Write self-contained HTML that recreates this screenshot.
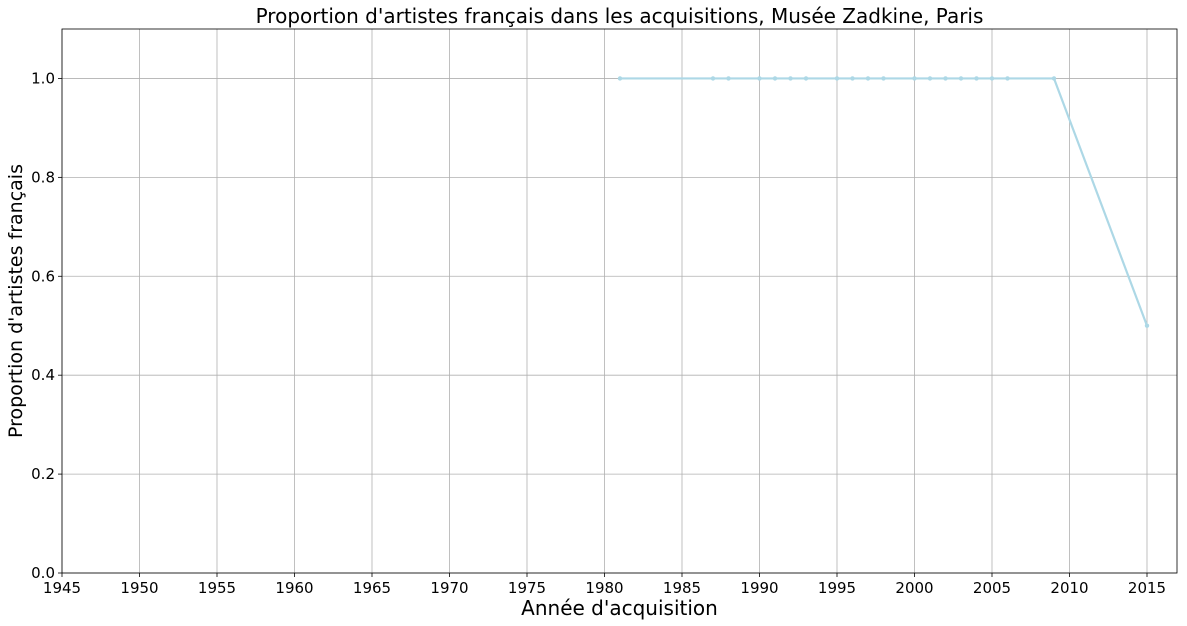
<!DOCTYPE html>
<html><head><meta charset="utf-8">
<style>
html,body{margin:0;padding:0;background:#fff;}
svg{display:block;font-family:"DejaVu Sans","Liberation Sans",sans-serif;}
</style></head>
<body>
<svg id="chart" width="1187" height="626" viewBox="0 0 1187 626"></svg>
<script>
const years = [1981,1987,1988,1990,1991,1992,1993,1995,1996,1997,1998,2000,2001,2002,2003,2004,2005,2006,2009,2015];
const values = [1,1,1,1,1,1,1,1,1,1,1,1,1,1,1,1,1,1,1,0.5];
const xTicks = [1945,1950,1955,1960,1965,1970,1975,1980,1985,1990,1995,2000,2005,2010,2015];
const yTicks = [0.0,0.2,0.4,0.6,0.8,1.0];

const L=62,R=1177,T=29,B=573;
const x0=1945,x1=1945+(R-L)/15.5, y0=0,y1=1.1;
const sx=v=>L+(v-x0)/(x1-x0)*(R-L);
const sy=v=>B-(v-y0)/(y1-y0)*(B-T);
const NS="http://www.w3.org/2000/svg";
const svg=document.getElementById('chart');
function mk(tag,attrs,parent){const e=document.createElementNS(NS,tag);for(const k in attrs)e.setAttribute(k,attrs[k]);(parent||svg).appendChild(e);return e;}

const grid=mk('g',{});


xTicks.forEach(t=>{
  const l=mk('line',{x1:sx(t),x2:sx(t),y1:T,y2:B,stroke:'#b0b0b0','stroke-width':0.8},grid);
  
  
  const tk=mk('line',{x1:sx(t),x2:sx(t),y1:B,y2:B+4,stroke:'#000','stroke-width':0.8});
  
  
  const tx=mk('text',{x:sx(t),y:B+20,'text-anchor':'middle','font-size':15,fill:'#000'});
  tx.textContent=t;
  
  
});
yTicks.forEach(t=>{
  const l=mk('line',{x1:L,x2:R,y1:sy(t),y2:sy(t),stroke:'#b0b0b0','stroke-width':0.8},grid);
  
  
  const tk=mk('line',{x1:L-4,x2:L,y1:sy(t),y2:sy(t),stroke:'#000','stroke-width':0.8});
  
  
  const tx=mk('text',{x:L-7,y:sy(t)+5,'text-anchor':'end','font-size':15,fill:'#000'});
  tx.textContent=t.toFixed(1);
  
  
});

const pts=years.map((y,i)=>sx(y)+','+sy(values[i])).join(' ');
const line=mk('polyline',{points:pts,fill:'none',stroke:'#add8e6','stroke-width':2.2});


years.forEach((y,i)=>{
  const c=mk('circle',{cx:sx(y),cy:sy(values[i]),r:2.2,fill:'#add8e6'});
  
  
});

const frame=mk('rect',{x:L,y:T,width:R-L,height:B-T,fill:'none',stroke:'#000','stroke-width':0.8});



const title=mk('text',{x:(L+R)/2,y:23,'text-anchor':'middle','font-size':20,fill:'#000'});
title.textContent="Proportion d'artistes français dans les acquisitions, Musée Zadkine, Paris";


const xt=mk('text',{x:(L+R)/2,y:615,'text-anchor':'middle','font-size':20,fill:'#000'});
xt.textContent="Année d'acquisition";


const yt=mk('text',{x:22,y:(T+B)/2,'text-anchor':'middle','font-size':19,fill:'#000',transform:'rotate(-90 22 '+((T+B)/2)+')'});
yt.textContent="Proportion d'artistes français";


</script>
</body></html>
